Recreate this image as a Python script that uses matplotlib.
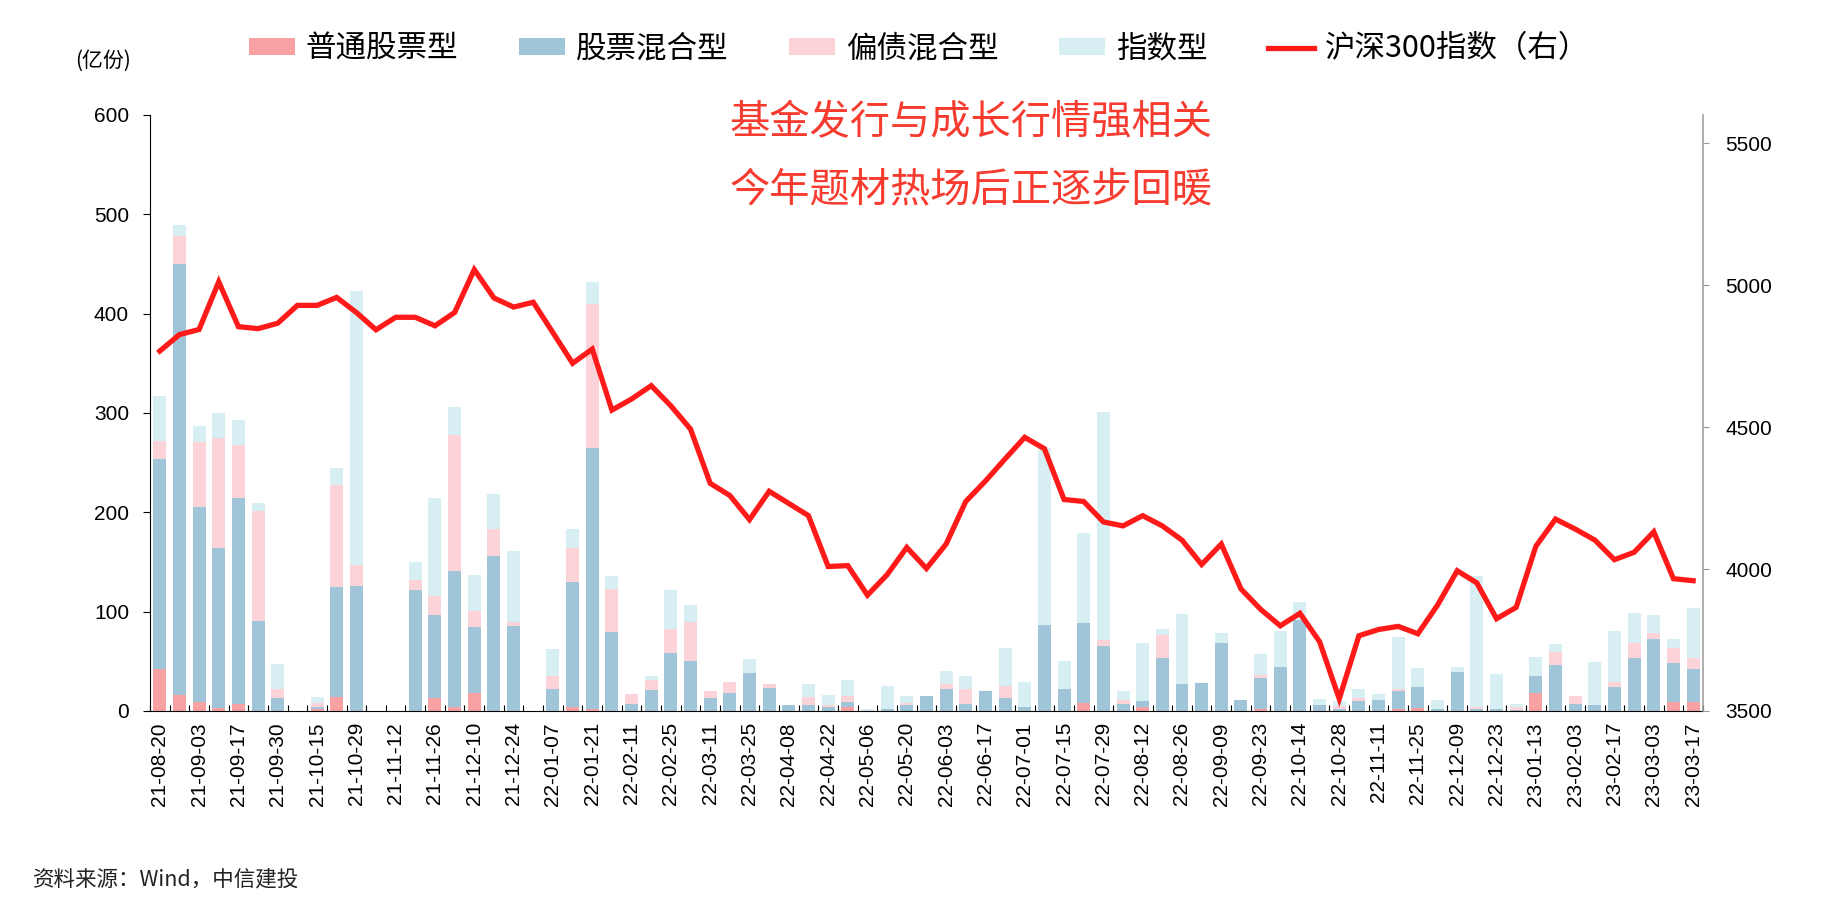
import matplotlib
matplotlib.use("Agg")
import matplotlib.pyplot as plt
import numpy as np
from matplotlib.ticker import FixedLocator, MultipleLocator

CJK = ['Noto Sans CJK SC', 'DejaVu Sans']
NUM = ['Liberation Sans', 'DejaVu Sans']

dates = ["21-08-20", "21-08-27", "21-09-03", "21-09-10", "21-09-17", "21-09-24", "21-09-30", "21-10-08",
         "21-10-15", "21-10-22", "21-10-29", "21-11-05", "21-11-12", "21-11-19", "21-11-26", "21-12-03",
         "21-12-10", "21-12-17", "21-12-24", "21-12-31", "22-01-07", "22-01-14", "22-01-21", "22-01-28",
         "22-02-11", "22-02-18", "22-02-25", "22-03-04", "22-03-11", "22-03-18", "22-03-25", "22-04-01",
         "22-04-08", "22-04-15", "22-04-22", "22-04-29", "22-05-06", "22-05-13", "22-05-20", "22-05-27",
         "22-06-03", "22-06-10", "22-06-17", "22-06-24", "22-07-01", "22-07-08", "22-07-15", "22-07-22",
         "22-07-29", "22-08-05", "22-08-12", "22-08-19", "22-08-26", "22-09-02", "22-09-09", "22-09-16",
         "22-09-23", "22-09-30", "22-10-14", "22-10-21", "22-10-28", "22-11-04", "22-11-11", "22-11-18",
         "22-11-25", "22-12-02", "22-12-09", "22-12-16", "22-12-23", "23-01-06", "23-01-13", "23-01-20",
         "23-02-03", "23-02-10", "23-02-17", "23-02-24", "23-03-03", "23-03-10", "23-03-17"]

# 普通股票型 (亿份)
stock = [42, 16, 9, 3, 7, 0, 0, 0, 2, 14, 0, 0, 0, 0, 13, 4, 18, 0, 0, 0,
         0, 4, 2, 0, 0, 0, 0, 0, 0, 0, 0, 0, 0, 0, 0, 4, 0, 0, 0, 0,
         0, 0, 0, 0, 0, 0, 0, 8, 0, 0, 4, 0, 0, 0, 0, 0, 2, 0, 0, 0,
         0, 0, 0, 2, 3, 0, 0, 0, 0, 0, 18, 0, 0, 0, 0, 0, 0, 9, 9]
# 股票混合型
mixed = [212, 434, 196, 161, 207, 91, 13, 0, 2, 111, 126, 0, 0, 122, 84, 137, 67, 156, 86, 0,
         22, 126, 263, 79, 7, 21, 58, 50, 13, 18, 38, 23, 6, 6, 4, 5, 0, 2, 6, 15,
         22, 7, 20, 13, 4, 87, 22, 81, 65, 7, 6, 53, 27, 28, 68, 11, 31, 44, 92, 6,
         2, 10, 11, 18, 21, 2, 39, 2, 2, 1, 17, 46, 7, 6, 24, 53, 72, 39, 33]
# 偏债混合型
bond_mixed = [18, 28, 66, 111, 54, 110, 9, 0, 4, 102, 21, 0, 0, 10, 19, 137, 16, 27, 4, 0,
              13, 34, 145, 44, 10, 10, 25, 40, 7, 11, 0, 4, 0, 8, 2, 6, 0, 0, 2, 0,
              5, 15, 0, 12, 0, 0, 0, 0, 6, 4, 0, 23, 0, 0, 0, 0, 3, 0, 0, 0,
              3, 3, 0, 2, 0, 0, 0, 2, 0, 3, 0, 13, 8, 0, 5, 15, 6, 15, 11]
# 指数型
index_fund = [45, 11, 16, 25, 25, 8, 25, 0, 6, 18, 276, 0, 0, 18, 98, 28, 36, 35, 71, 0,
              27, 19, 22, 13, 0, 4, 39, 17, 0, 0, 14, 0, 0, 13, 10, 16, 2, 23, 7, 0,
              13, 13, 0, 38, 25, 178, 28, 90, 230, 9, 58, 6, 71, 0, 10, 0, 21, 36, 18, 6,
              5, 9, 6, 52, 19, 9, 5, 132, 35, 3, 19, 8, 0, 43, 51, 31, 19, 9, 51]
# 沪深300指数
hs300 = [4768, 4826, 4844, 5012, 4854, 4847, 4866, 4929, 4929, 4957, 4904, 4843, 4887, 4887, 4857, 4904,
         5055, 4955, 4923, 4940, 4833, 4725, 4775, 4560, 4599, 4646, 4575, 4493, 4302, 4259, 4174, 4274,
         4231, 4188, 4009, 4012, 3908, 3980, 4076, 4002, 4088, 4238, 4310, 4388, 4464, 4424, 4245, 4238,
         4166, 4152, 4188, 4152, 4102, 4016, 4088, 3930, 3858, 3800, 3844, 3744, 3543, 3765, 3787, 3798,
         3772, 3873, 3994, 3951, 3825, 3865, 4080, 4176, 4141, 4102, 4033, 4059, 4131, 3966, 3959]

names = ["普通股票型", "股票混合型", "偏债混合型", "指数型"]
colors = ["#F7A1A3", "#A0C4D8", "#FCD3D8", "#D7EEF3"]

x = np.arange(len(dates))
series = [np.array(stock), np.array(mixed), np.array(bond_mixed), np.array(index_fund)]

fig = plt.figure(figsize=(18.42, 9.02), dpi=100)
ax = fig.add_axes([0.0814, 0.2118, 0.8431, 0.6608])

bottom = np.zeros(len(dates))
handles = []
for vals, name, c in zip(series, names, colors):
    h = ax.bar(x, vals, width=0.66, bottom=bottom, color=c, label=name, zorder=2)
    handles.append(h)
    bottom = bottom + vals

ax.set_xlim(-0.5, len(dates) - 0.5)
ax.set_ylim(0, 600)
ax.yaxis.set_major_locator(MultipleLocator(100))
ax.set_xticks(x[::2])
ax.set_xticklabels(dates[::2], rotation=90, fontsize=15, family=NUM)
ax.xaxis.set_minor_locator(FixedLocator(np.arange(-0.5, len(dates), 1.0)))
ax.tick_params(axis='x', which='major', length=0, pad=8)
ax.tick_params(axis='x', which='minor', direction='in', length=4, width=0.8)
ax.tick_params(axis='y', direction='out', length=5, width=0.8, labelsize=15, pad=10)
for t in ax.get_yticklabels():
    t.set_family(NUM)
ax.spines['top'].set_visible(False)
ax.spines['right'].set_visible(False)
ax.spines['left'].set_linewidth(0.8)
ax.spines['bottom'].set_linewidth(0.8)

ax2 = ax.twinx()
line, = ax2.plot(x, hs300, color="#FF1A1A", lw=3.8, solid_joinstyle='miter', label="沪深300指数（右）", zorder=3)
ax2.set_ylim(3500, 5600)
ax2.set_yticks([3500, 4000, 4500, 5000, 5500])
ax2.tick_params(axis='y', direction='out', length=4, width=0.8, color='#999999', labelsize=15, pad=12)
for t in ax2.get_yticklabels():
    t.set_family(NUM)
for s in ['top', 'left', 'bottom']:
    ax2.spines[s].set_visible(False)
ax2.spines['right'].set_color('#A0A0A0')
ax2.spines['right'].set_linewidth(1.2)

fig.legend(handles + [line], names + ["沪深300指数（右）"], loc='center', bbox_to_anchor=(0.499, 0.946),
           ncol=5, frameon=False, prop={'family': CJK, 'size': 22}, handlelength=1.5,
           handleheight=0.45, handletextpad=0.35, columnspacing=2.0)

fig.text(0.041, 0.933, "(亿份)", fontsize=15, family=CJK, ha='left', va='center')
fig.text(0.527, 0.864, "基金发行与成长行情强相关", fontsize=29, family=CJK, color="#F73B2F",
         ha='center', va='center')
fig.text(0.527, 0.790, "今年题材热场后正逐步回暖", fontsize=29, family=CJK, color="#F73B2F",
         ha='center', va='center')
fig.text(0.018, 0.025, "资料来源：Wind，中信建投", fontsize=15.5, family=CJK, color="#222222",
         ha='left', va='center')

fig.savefig("out.png", dpi=100)
